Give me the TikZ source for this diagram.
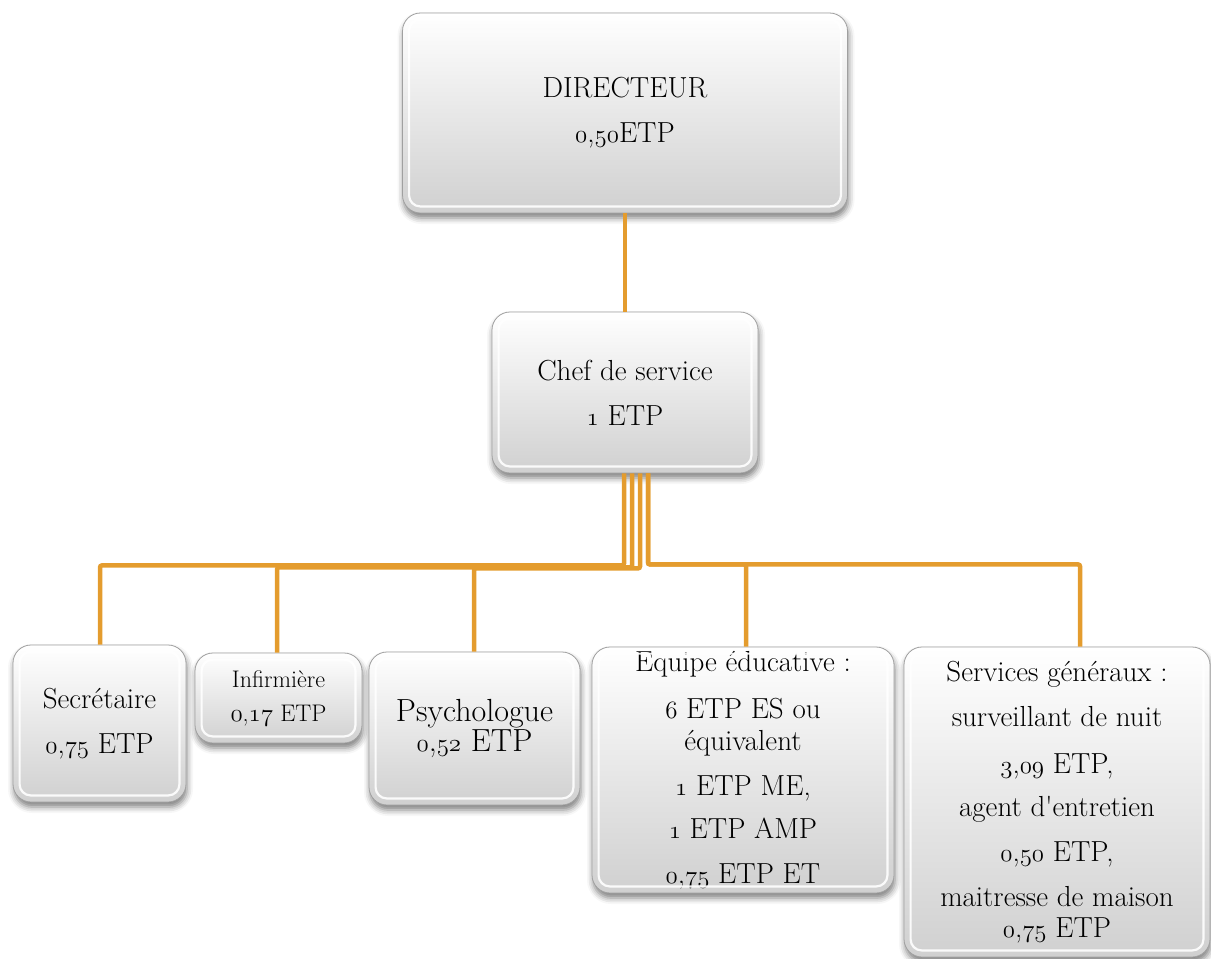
\documentclass[tikz,border=0pt]{standalone}
\usetikzlibrary{shadows.blur,calc}
\definecolor{linkcol}{RGB}{228,156,46}
\definecolor{boxbot}{RGB}{208,208,208}
\definecolor{boxedge}{RGB}{160,160,160}
\newcommand\osn[1]{{\usefont{OML}{lmm}{m}{it}#1}}
\begin{document}
\begin{tikzpicture}[x=1pt,y=-1pt,
  orgbox/.style={rectangle, rounded corners=18pt, draw=boxedge, line width=0.8pt,
    top color=white, bottom color=boxbot, inner sep=0pt, align=center,
    blur shadow={shadow xshift=1pt, shadow yshift=-5pt, shadow blur radius=6pt, shadow opacity=50},
    font={\fontsize{29}{32}\selectfont}},
  link/.style={draw=linkcol, line width=4.5pt, rounded corners=2pt},
  bevel/.style={draw=white, line width=2.2pt, rounded corners=11pt, opacity=0.9}]
\useasboundingbox (0,0) rectangle (1211,959);

\node[orgbox, minimum width=445pt, minimum height=200pt] (dir) at (625,113)
  {DIRECTEUR\\[13pt]\osn{0},\osn{50}ETP};
\node[orgbox, minimum width=266pt, minimum height=161pt] (chef) at (625,392.5)
  {Chef de service\\[13pt]\osn{1} ETP};
\node[orgbox, minimum width=173pt, minimum height=157pt] (sec) at (99.5,723.5)
  {Secrétaire\\[13pt]\osn{0},\osn{75} ETP};
\node[orgbox, minimum width=167pt, minimum height=90pt, font={\fontsize{24}{27}\selectfont}] (inf) at (278.5,698)
  {Infirmière\\[7pt]\osn{0},\osn{17} ETP};
\node[orgbox, minimum width=211pt, minimum height=153pt, font={\fontsize{32}{30}\selectfont}] (psy) at (474.5,728.5)
  {Psychologue\\\osn{0},\osn{52} ETP};
\node[orgbox, minimum width=302pt, minimum height=246pt] (equ) at (743,770)
  {Equipe éducative :\\[15pt]\osn{6} ETP ES ou\\équivalent\\[13pt]\osn{1} ETP ME,\\[11pt]\osn{1} ETP AMP\\[13pt]\osn{0},\osn{75} ETP ET};
\node[orgbox, minimum width=306pt, minimum height=310pt, font={\fontsize{29}{31}\selectfont}] (ser) at (1057,802)
  {Services généraux :\\[14pt]surveillant de nuit\\[16pt]\osn{3},\osn{09} ETP,\\[12pt]agent d\textquotesingle entretien\\[14pt]\osn{0},\osn{50} ETP,\\[14pt]maitresse de maison\\\osn{0},\osn{75} ETP};

\foreach \n in {dir,chef,sec,inf,psy,equ,ser}
  \draw[bevel] ([shift={(7pt,-7pt)}]\n.north west) rectangle ([shift={(-7pt,7pt)}]\n.south east);

\draw[link] (dir.south) -- (chef.north);
\draw[link] ([xshift=-1pt]chef.south) -- ++(0,92) -| ([xshift=0.5pt]sec.north);
\draw[link] ([xshift=7pt]chef.south) -- ++(0,94) -| ([xshift=-1.5pt]inf.north);
\draw[link] ([xshift=15pt]chef.south) -- ++(0,95) -| ([xshift=-0.5pt]psy.north);
\draw[link] ([xshift=23pt]chef.south) -- ++(0,91) -| ([xshift=3pt]equ.north);
\draw[link] ([xshift=23pt]chef.south) -- ++(0,91) -| ([xshift=23pt]ser.north);
\end{tikzpicture}
\end{document}
